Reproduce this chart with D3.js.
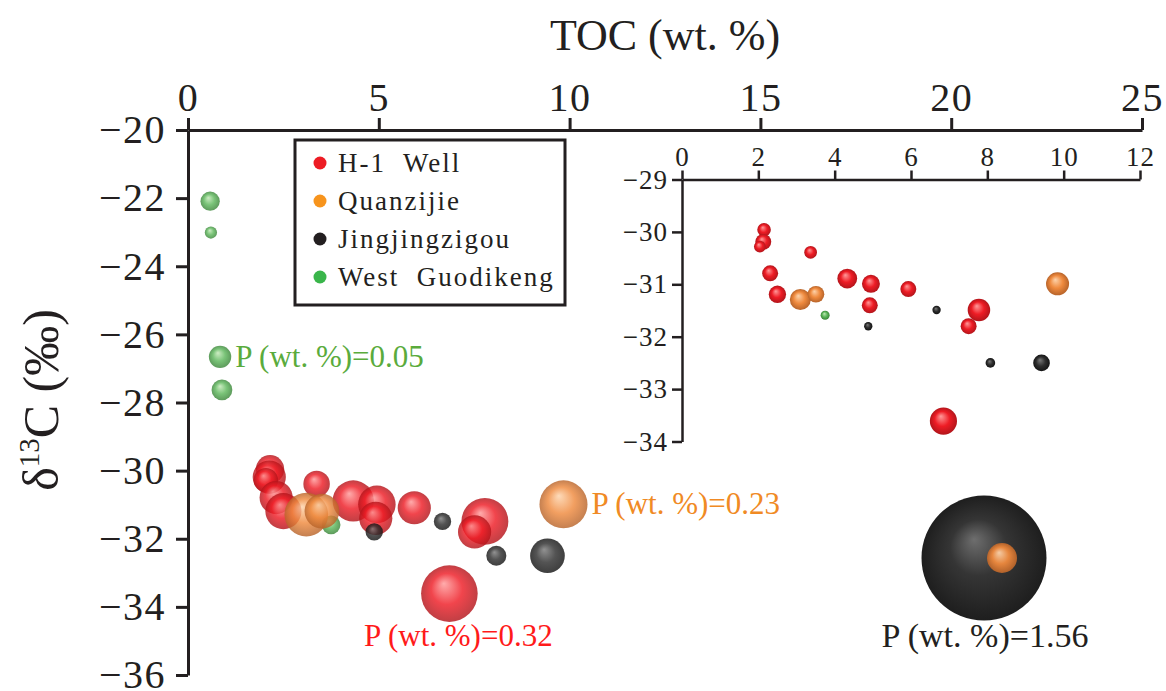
<!DOCTYPE html>
<html>
<head>
<meta charset="utf-8">
<script src="https://cdn.jsdelivr.net/npm/d3@7/dist/d3.min.js"></script>
<style>
  body { margin: 0; background: #fff; }
  svg { font-family: "Liberation Serif", "DejaVu Serif", serif; }
</style>
</head>
<body>
<svg id="chart" width="1166" height="691"></svg>
<script>
// sample groups
const groups = ['H-1  Well', 'Quanzijie', 'Jingjingzigou', 'West  Guodikeng'];
const groupKeys = ['red', 'orange', 'black', 'green'];

// TOC (wt.%), d13C (permil), P (wt.%) per group
const redToc = [2.15, 2.13, 2.04, 3.37, 2.31, 2.50, 4.33, 4.95, 4.92, 5.93, 7.78, 7.51, 6.85];
const redD13 = [-29.96, -30.19, -30.28, -30.39, -30.79, -31.19, -30.89, -30.99, -31.40, -31.09, -31.49, -31.80, -33.61];
const redP = [0.08, 0.11, 0.06, 0.07, 0.11, 0.13, 0.17, 0.14, 0.11, 0.11, 0.22, 0.11, 0.32];

const orangeToc = [3.10, 3.51, 9.84];
const orangeD13 = [-31.29, -31.19, -30.99];
const orangeP = [0.19, 0.12, 0.23];

const blackToc = [4.88, 6.67, 8.08, 9.42];
const blackD13 = [-31.80, -31.49, -32.50, -32.50];
const blackP = [0.03, 0.03, 0.04, 0.12];

const greenToc = [0.58, 0.60, 0.84, 0.89, 3.75];
const greenD13 = [-22.09, -23.01, -26.66, -27.63, -31.59];
const greenP = [0.037, 0.015, 0.05, 0.043, 0.035];

// axis ticks
const mainXTicks = [0, 5, 10, 15, 20, 25];
const mainYTicks = [-20, -22, -24, -26, -28, -30, -32, -34, -36];
const insetXTicks = [0, 2, 4, 6, 8, 10, 12];
const insetYTicks = [-29, -30, -31, -32, -33, -34];

// annotations: group, point index, text
const notes = [
  { key: 'green', i: 2, text: 'P (wt. %)=0.05' },
  { key: 'orange', i: 2, text: 'P (wt. %)=0.23' },
  { key: 'red', i: 12, text: 'P (wt. %)=0.32' }
];
const sizeRef = [1.56, 0.09];

const colors = {
  red:    { base: '#ee1c25', hi: '#ff9a9a', lo: '#b3151b', label: '#ff1a1a', dot: '#ed1c24' },
  orange: { base: '#ef8a3e', hi: '#fdd3ab', lo: '#b8642a', label: '#f08a24', dot: '#f7941d' },
  black:  { base: '#2e2e2e', hi: '#7a7a7a', lo: '#141414', label: '#231f20', dot: '#231f20' },
  green:  { base: '#5cb65a', hi: '#c2e8b6', lo: '#3a8538', label: '#5aab3c', dot: '#39b54a' }
};
const ink = '#231f20';

const raw = { red: [redToc, redD13, redP], orange: [orangeToc, orangeD13, orangeP],
              black: [blackToc, blackD13, blackP], green: [greenToc, greenD13, greenP] };
const data = [];
['green', 'red', 'orange', 'black'].forEach(k => {
  raw[k][0].forEach((t, i) => data.push({ key: k, i: i, toc: t, d13: raw[k][1][i], p: raw[k][2][i] }));
});

const svg = d3.select('#chart');
const defs = svg.append('defs');
Object.keys(colors).forEach(k => {
  const c = colors[k];
  const gr = defs.append('radialGradient').attr('id', 'g-' + k)
    .attr('cx', 0.5).attr('cy', 0.5).attr('r', 0.5).attr('fx', 0.4).attr('fy', 0.32);
  gr.append('stop').attr('offset', '0%').attr('stop-color', c.hi);
  gr.append('stop').attr('offset', '55%').attr('stop-color', c.base);
  gr.append('stop').attr('offset', '100%').attr('stop-color', c.lo);
});
const bigGr = defs.append('radialGradient').attr('id', 'g-big')
  .attr('cx', 0.5).attr('cy', 0.5).attr('r', 0.5).attr('fx', 0.42).attr('fy', 0.35);
bigGr.append('stop').attr('offset', '0%').attr('stop-color', '#6e6e6e');
bigGr.append('stop').attr('offset', '45%').attr('stop-color', '#353535');
bigGr.append('stop').attr('offset', '100%').attr('stop-color', '#1e1e1e');

// main scales
const x = d3.scaleLinear().domain([0, 25]).range([188, 1142]);
const y = d3.scaleLinear().domain([-20, -36]).range([130, 675]);
const r = d3.scaleSqrt().domain([0, 1.56]).range([0, 62.5]);

// inset scales
const xi = d3.scaleLinear().domain([0, 12]).range([682, 1140]);
const yi = d3.scaleLinear().domain([-29, -34]).range([179.5, 441.5]);
const ri = d3.scaleSqrt().domain([0, 1.56]).range([0, 30]);

function styleAxis(g, w, fs, ls) {
  g.selectAll('.domain').attr('stroke', ink).attr('stroke-width', w);
  g.selectAll('.tick line').attr('stroke', ink).attr('stroke-width', w);
  g.selectAll('.tick text').attr('fill', ink).style('font-size', fs + 'px')
    .style('letter-spacing', ls + 'px')
    .style('font-family', '"Liberation Serif", serif');
}
const minus = d => d < 0 ? '\u2212' + Math.abs(d) : String(d);

// main axes
svg.append('g').attr('transform', 'translate(0,130)')
  .call(d3.axisTop(x).tickValues(mainXTicks).tickSizeInner(12).tickSizeOuter(0).tickPadding(7).tickFormat(minus))
  .call(g => styleAxis(g, 3, 40, 1.5));
svg.append('g').attr('transform', 'translate(188,0)')
  .call(d3.axisLeft(y).tickValues(mainYTicks).tickSizeInner(12).tickSizeOuter(0).tickPadding(10).tickFormat(minus))
  .call(g => styleAxis(g, 3, 40, 1.5));

// inset axes
svg.append('g').attr('transform', 'translate(0,179.5)')
  .call(d3.axisTop(xi).tickValues(insetXTicks).tickSizeInner(9).tickSizeOuter(0).tickPadding(5).tickFormat(minus))
  .call(g => styleAxis(g, 2.5, 27, 1));
svg.append('g').attr('transform', 'translate(682,0)')
  .call(d3.axisLeft(yi).tickValues(insetYTicks).tickSizeInner(10).tickSizeOuter(0).tickPadding(4).tickFormat(minus))
  .call(g => styleAxis(g, 2.5, 27, 1));

// axis titles
svg.append('text').attr('x', 665).attr('y', 50).attr('text-anchor', 'middle')
  .attr('fill', ink).style('font-size', '44px').text('TOC (wt. %)');
const yt = svg.append('text').attr('transform', 'translate(58,400) rotate(-90)')
  .attr('text-anchor', 'middle').attr('fill', ink).style('font-size', '50px');
yt.append('tspan').text('\u03b4');
yt.append('tspan').attr('dy', -19).style('font-size', '29px').text('13');
yt.append('tspan').attr('dy', 19).text('C (\u2030)');

// main bubbles
svg.append('g').selectAll('circle').data(data).join('circle')
  .attr('cx', d => x(d.toc)).attr('cy', d => y(d.d13)).attr('r', d => r(d.p))
  .attr('fill', d => 'url(#g-' + d.key + ')').attr('fill-opacity', 0.82);

// inset bubbles
svg.append('g').selectAll('circle').data(data.filter(d => d.d13 <= -29)).join('circle')
  .attr('cx', d => xi(d.toc)).attr('cy', d => yi(d.d13)).attr('r', d => ri(d.p))
  .attr('fill', d => 'url(#g-' + d.key + ')');

// annotations
const find = (k, i) => data.find(d => d.key === k && d.i === i);
notes.forEach(n => {
  const d = find(n.key, n.i);
  const t = svg.append('text').attr('fill', colors[n.key].label).style('font-size', '31px').text(n.text);
  if (n.key === 'red') {
    t.attr('x', x(d.toc) + 9).attr('y', y(d.d13) + r(d.p) + 24).attr('text-anchor', 'middle');
  } else {
    t.attr('x', x(d.toc) + r(d.p) + 4).attr('y', y(d.d13) + 10);
  }
});

// size reference sphere
const refX = 984, refY = 558;
svg.append('circle').attr('cx', refX).attr('cy', refY).attr('r', r(sizeRef[0])).attr('fill', 'url(#g-big)');
svg.append('circle').attr('cx', refX + 18).attr('cy', refY).attr('r', r(sizeRef[1]))
  .attr('fill', 'url(#g-orange)').attr('opacity', 0.95);
svg.append('text').attr('x', refX + 1).attr('y', refY + r(sizeRef[0]) + 26).attr('text-anchor', 'middle')
  .attr('fill', ink).style('font-size', '34px').text('P (wt. %)=' + sizeRef[0]);

// legend
const leg = svg.append('g').attr('transform', 'translate(295,140)');
leg.append('rect').attr('width', 270).attr('height', 165).attr('fill', '#fff')
  .attr('stroke', ink).attr('stroke-width', 3);
groups.forEach((name, i) => {
  const row = leg.append('g').attr('transform', `translate(0,${23 + i * 38})`);
  row.append('circle').attr('cx', 25).attr('cy', 0).attr('r', 6.5).attr('fill', colors[groupKeys[i]].dot);
  row.append('text').attr('x', 43).attr('y', 9).attr('fill', ink)
    .style('font-size', '27px').style('letter-spacing', '2px').style('white-space', 'pre').text(name);
});
</script>
</body>
</html>
